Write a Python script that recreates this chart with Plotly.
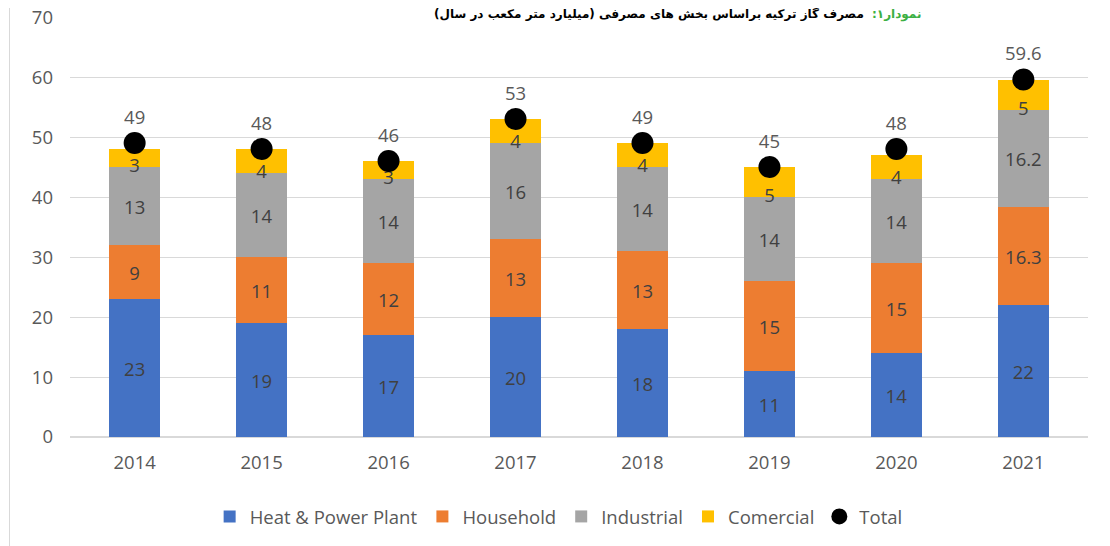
import plotly.graph_objects as go

years = ["2014", "2015", "2016", "2017", "2018", "2019", "2020", "2021"]
heat_power = [23, 19, 17, 20, 18, 11, 14, 22]
household = [9, 11, 12, 13, 13, 15, 15, 16.3]
industrial = [13, 14, 14, 16, 14, 14, 14, 16.2]
commercial = [3, 4, 3, 4, 4, 5, 4, 5]
total = [49, 48, 46, 53, 49, 45, 48, 59.6]

title_black = "\u200fمصرف گاز ترکیه براساس بخش های مصرفی (میلیارد متر مکعب در سال)\u200f"
title_green = "\u200fنمودار۱:\u200f"

font_family = "Open Sans, Segoe UI, sans-serif"
label_col = "#404040"
fs = 18.5

fig = go.Figure()
series = [
    ("Heat & Power Plant", heat_power, "#4472C4", True),
    ("Household", household, "#ED7D31", True),
    ("Industrial", industrial, "#A5A5A5", True),
    ("Comercial", commercial, "#FFC000", False),
]
for name, vals, col, show_lbl in series:
    fig.add_trace(go.Bar(
        x=years, y=vals, name=name, marker_color=col, marker_line_width=0,
        text=[str(v) for v in vals] if show_lbl else None,
        textposition="inside" if show_lbl else "none",
        insidetextanchor="middle",
        textfont=dict(color=label_col, size=fs, family=font_family),
    ))

# Commercial labels sit at the lower edge of the yellow segment (as in the reference)
base_comm = [h + hh + i for h, hh, i in zip(heat_power, household, industrial)]
fig.add_trace(go.Scatter(
    x=years, y=base_comm, mode="text", text=[str(v) for v in commercial],
    textposition="middle center", showlegend=False, hoverinfo="skip",
    textfont=dict(color=label_col, size=fs, family=font_family),
))

fig.add_trace(go.Scatter(
    x=years, y=total, name="Total", mode="markers+text",
    marker=dict(color="black", size=22),
    text=[str(v) for v in total], textposition="top center",
    textfont=dict(color="#595959", size=fs, family=font_family),
))

L, R = 70.5, 1088.5
def px_to_paper(px):
    return (px - L) / (R - L)

title_y = 1 + 3 / 420
fig.add_annotation(
    text="<b>" + title_black + "</b>", x=px_to_paper(866), xanchor="right",
    y=title_y, yanchor="middle", xref="paper", yref="paper",
    showarrow=False, font=dict(family="DejaVu Sans", size=12, color="black"),
)
fig.add_annotation(
    text="<b>" + title_green + "</b>", x=px_to_paper(870), xanchor="left",
    y=title_y, yanchor="middle", xref="paper", yref="paper",
    showarrow=False, font=dict(family="DejaVu Sans", size=12, color="#3CB043"),
)

fig.add_shape(type="line", xref="paper", yref="paper",
              x0=px_to_paper(10), x1=px_to_paper(10), y0=-0.3, y1=1.05,
              line=dict(color="#d9d9d9", width=1))

fig.update_layout(
    width=1102, height=538,
    margin=dict(l=62, r=22, t=9, b=109, autoexpand=False),
    barmode="stack", bargap=0.6,
    plot_bgcolor="white", paper_bgcolor="white",
    font=dict(family=font_family, color="#595959", size=fs),
    uniformtext=dict(minsize=fs, mode="show"),
    legend=dict(orientation="h", x=0.48, xanchor="center", y=-0.145, yanchor="top",
                font=dict(size=fs, color="#595959"), itemsizing="trace",
                traceorder="normal", itemwidth=30),
    xaxis=dict(showgrid=False, showline=False, ticks="",
               tickfont=dict(size=fs, color="#595959"), ticklabelstandoff=12),
    yaxis=dict(range=[0, 70.02], tickvals=[0, 10, 20, 30, 40, 50, 60, 70],
               showgrid=True, gridcolor="#d9d9d9",
               zeroline=True, zerolinecolor="#d9d9d9", showline=False,
               ticklabeloverflow="allow",
               tickfont=dict(size=fs, color="#595959"), ticklabelstandoff=16),
    showlegend=True,
)

fig.write_html("out.html")
